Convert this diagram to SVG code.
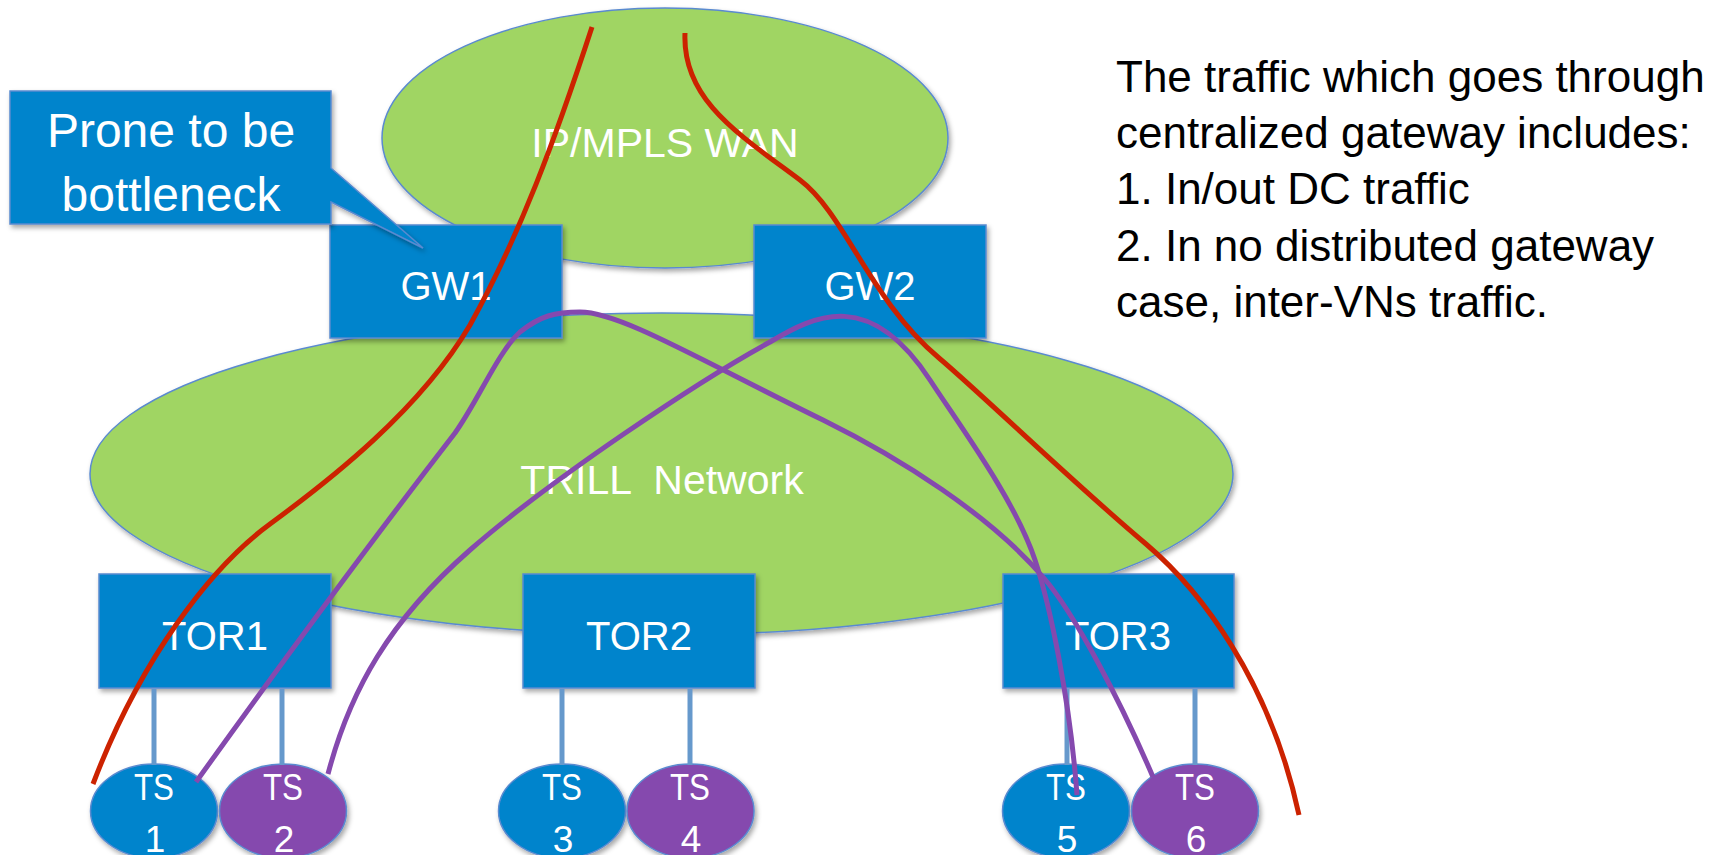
<svg xmlns="http://www.w3.org/2000/svg" width="1723" height="855" viewBox="0 0 1723 855">
<defs>
<filter id="sh" x="-10%" y="-10%" width="130%" height="130%">
<feDropShadow dx="2" dy="3" stdDeviation="2.5" flood-color="#000" flood-opacity="0.35"/>
</filter>
<style>
.cloud{fill:#A0D563;stroke:#5A8AD0;stroke-width:1.5;filter:url(#sh)}
.box{fill:#0284CC;stroke:#5A8AD0;stroke-width:1.5;filter:url(#sh)}
.tsb{fill:#0284CC;stroke:#5A8AD0;stroke-width:1.5;filter:url(#sh)}
.tsp{fill:#8549AE;stroke:#5A8AD0;stroke-width:1.5;filter:url(#sh)}
.lbl{font-family:"Liberation Sans",Arial,sans-serif;fill:#fff;text-anchor:middle}
.note{font-family:"Liberation Sans",Arial,sans-serif;fill:#000;font-size:44px}
.link{stroke:#6699CC;stroke-width:5;fill:none}
.red{stroke:#CC2200;stroke-width:5;fill:none}
.pur{stroke:#8549AE;stroke-width:5;fill:none}
</style>
</defs>
<rect width="1723" height="855" fill="#fff"/>
<g id="wan">
<ellipse class="cloud" cx="665" cy="138" rx="283" ry="130"/>
<text class="lbl" x="665" y="157" font-size="41">IP/MPLS WAN</text>
</g>
<g id="trill">
<ellipse class="cloud" cx="661.5" cy="474" rx="571.5" ry="161"/>
<text class="lbl" x="662" y="494" font-size="41" xml:space="preserve">TRILL  Network</text>
</g>
<g id="gw1">
<rect class="box" x="330" y="225" width="232" height="113"/>
<text class="lbl" x="446" y="300" font-size="40">GW1</text>
</g>
<g id="gw2">
<rect class="box" x="754" y="225" width="232" height="113"/>
<text class="lbl" x="870" y="300" font-size="40">GW2</text>
</g>
<g id="callout">
<path class="box" d="M10,91 H331 V168 L423,248 L331,202 V224 H10 Z"/>
<text class="lbl" x="171" y="147" font-size="48">Prone to be</text>
<text class="lbl" x="171" y="211" font-size="48">bottleneck</text>
</g>
<g id="tor1">
<rect class="box" x="99" y="574" width="232" height="114"/>
<text class="lbl" x="215" y="650" font-size="40">TOR1</text>
</g>
<g id="tor2">
<rect class="box" x="523" y="574" width="232" height="114"/>
<text class="lbl" x="639" y="650" font-size="40">TOR2</text>
</g>
<g id="tor3">
<rect class="box" x="1003" y="574" width="231" height="114"/>
<text class="lbl" x="1118" y="650" font-size="40">TOR3</text>
</g>
<g id="ts1">
<ellipse class="tsb" cx="154" cy="811" rx="63.5" ry="47"/>
<text class="lbl" x="154" y="800" font-size="37" textLength="40" lengthAdjust="spacingAndGlyphs">TS</text>
<text class="lbl" x="155" y="852" font-size="37">1</text>
</g>
<g id="ts2">
<ellipse class="tsp" cx="283" cy="811" rx="63.5" ry="47"/>
<text class="lbl" x="283" y="800" font-size="37" textLength="40" lengthAdjust="spacingAndGlyphs">TS</text>
<text class="lbl" x="284" y="852" font-size="37">2</text>
</g>
<g id="ts3">
<ellipse class="tsb" cx="562" cy="811" rx="63.5" ry="47"/>
<text class="lbl" x="562" y="800" font-size="37" textLength="40" lengthAdjust="spacingAndGlyphs">TS</text>
<text class="lbl" x="563" y="852" font-size="37">3</text>
</g>
<g id="ts4">
<ellipse class="tsp" cx="690.5" cy="811" rx="63.5" ry="47"/>
<text class="lbl" x="690" y="800" font-size="37" textLength="40" lengthAdjust="spacingAndGlyphs">TS</text>
<text class="lbl" x="691" y="852" font-size="37">4</text>
</g>
<g id="ts5">
<ellipse class="tsb" cx="1066" cy="811" rx="63.5" ry="47"/>
<text class="lbl" x="1066" y="800" font-size="37" textLength="40" lengthAdjust="spacingAndGlyphs">TS</text>
<text class="lbl" x="1067" y="852" font-size="37">5</text>
</g>
<g id="ts6">
<ellipse class="tsp" cx="1195" cy="811" rx="63.5" ry="47"/>
<text class="lbl" x="1195" y="800" font-size="37" textLength="40" lengthAdjust="spacingAndGlyphs">TS</text>
<text class="lbl" x="1196" y="852" font-size="37">6</text>
</g>
<g id="note">
<text class="note" x="1116" y="92">The traffic which goes through</text>
<text class="note" x="1116" y="148">centralized gateway includes:</text>
<text class="note" x="1116" y="204">1. In/out DC traffic</text>
<text class="note" x="1116" y="261">2. In no distributed gateway</text>
<text class="note" x="1116" y="317">case, inter-VNs traffic.</text>
</g>
<g id="connectors">
<line class="link" x1="154" y1="689" x2="154" y2="765"/>
<line class="link" x1="282" y1="689" x2="282" y2="765"/>
<line class="link" x1="562" y1="689" x2="562" y2="765"/>
<line class="link" x1="690" y1="689" x2="690" y2="765"/>
<line class="link" x1="1067" y1="689" x2="1067" y2="765"/>
<line class="link" x1="1195" y1="689" x2="1195" y2="765"/>
<path class="red" d="M592,27 C555,140 520,235 470,325 C420,410 330,480 270,524 C210,568 140,660 93,784"/>
<path class="red" d="M685,33 C682,100 740,135 800,180 C845,214 870,300 939,358 C985,397 1070,480 1146,544 C1200,590 1270,680 1299,815"/>
<path class="pur" d="M196,782 C280,665 380,530 455,433 C478,401 498,352 520,332 C540,316 555,312 580,312 C620,312 700,360 823,420 C900,458 990,515 1043,577 C1075,614 1120,700 1153,777"/>
<path class="pur" d="M328,774 C350,690 390,620 470,550 C550,480 700,380 770,342 C815,315 870,288 930,380 C960,426 1015,500 1035,560 C1050,605 1070,700 1077,795"/>
</g>
</svg>
